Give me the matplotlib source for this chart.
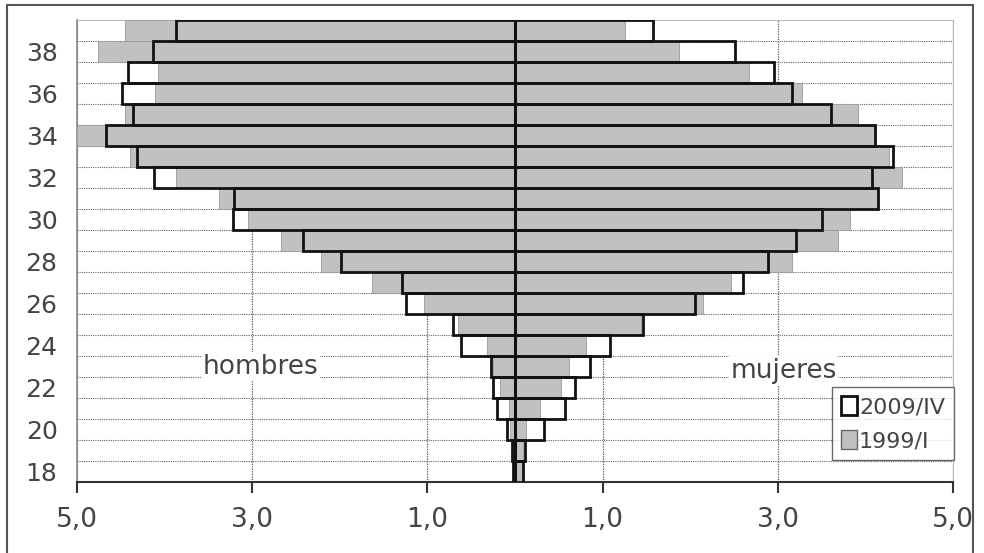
import matplotlib
matplotlib.use("Agg")
import matplotlib.pyplot as plt
from matplotlib.patches import Patch, Rectangle

plt.rcParams['font.family'] = ['DejaVu Sans']

ages = list(range(18, 40))
ytick_ages = list(range(18, 40, 2))
hombres_2009 = [0.02, 0.03, 0.09, 0.21, 0.25, 0.27, 0.62, 0.71, 1.24, 1.29, 1.99,
                2.42, 3.22, 3.21, 4.12, 4.31, 4.67, 4.36, 4.49, 4.42, 4.13, 3.87]
hombres_1999 = [0.01, 0.02, 0.06, 0.07, 0.17, 0.25, 0.32, 0.65, 1.04, 1.63, 2.22,
                2.67, 3.05, 3.38, 3.87, 4.40, 5.0, 4.45, 4.11, 4.08, 4.76, 4.45]
mujeres_2009 = [0.09, 0.11, 0.33, 0.57, 0.68, 0.86, 1.08, 1.46, 2.06, 2.60, 2.89,
                3.21, 3.51, 4.14, 4.08, 4.32, 4.11, 3.61, 3.16, 2.96, 2.51, 1.57]
mujeres_1999 = [0.09, 0.095, 0.13, 0.28, 0.52, 0.62, 0.81, 1.44, 2.15, 2.47, 3.16,
                3.69, 3.82, 4.13, 4.42, 4.27, 4.10, 3.92, 3.28, 2.67, 1.87, 1.26]
xticks = [-5, -3, -1, 1, 3, 5]
xticklabels = ["5,0", "3,0", "1,0", "1,0", "3,0", "5,0"]
series_labels = ["2009/IV", "1999/I"]

gray = "#c0c1c3"
txt = "#444444"

fig = plt.figure(figsize=(9.84, 5.53), dpi=100)
ax = fig.add_axes([0.0783, 0.1284, 0.8902, 0.8354])

neg_h09 = [-v for v in hombres_2009]
neg_h99 = [-v for v in hombres_1999]

# white fill of 2009, gray 1999 on top, then 2009 outline above
for vals in (neg_h09, mujeres_2009):
    ax.barh(ages, vals, height=1.0, color="white", edgecolor="none", zorder=2)
for vals in (neg_h99, mujeres_1999):
    ax.barh(ages, vals, height=1.0, color=gray, edgecolor="#9a9a9a", linewidth=0.6, zorder=3)
for vals in (neg_h09, mujeres_2009):
    ax.barh(ages, vals, height=1.0, fill=False, edgecolor="#111111", linewidth=2.0, zorder=4)
ax.axvline(0, color="#111111", linewidth=2.2, zorder=5)

ax.set_xlim(-5, 5)
ax.set_ylim(17.5, 39.5)
ax.set_xticks(xticks)
ax.set_xticklabels(xticklabels)
ax.set_yticks(ytick_ages)
ax.set_yticks([a + 0.5 for a in ages[:-1]], minor=True)

ax.grid(True, which="minor", axis="y", linestyle=(0, (1, 1)), color="#666666", linewidth=0.8, zorder=0)
ax.grid(True, which="major", axis="x", linestyle=(0, (1, 1)), color="#555555", linewidth=0.9, zorder=0)
ax.set_axisbelow(True)

ax.tick_params(axis="x", direction="out", length=8, width=1.5, color="#333333",
               labelsize=19, labelcolor=txt, pad=10)
ax.tick_params(axis="y", which="both", length=0, labelsize=18, labelcolor=txt, pad=14)

for s in ("top", "right"):
    ax.spines[s].set_color("#bbbbbb")
ax.spines["left"].set_color("#888888")
ax.spines["left"].set_linewidth(1.2)
ax.spines["bottom"].set_color("#333333")
ax.spines["bottom"].set_linewidth(1.5)

ax.text(-2.9, 23.0, "hombres", ha="center", va="center", fontsize=19, color=txt,
        bbox=dict(facecolor="white", edgecolor="none", pad=1), zorder=6)
ax.text(3.07, 22.8, "mujeres", ha="center", va="center", fontsize=19, color=txt,
        bbox=dict(facecolor="white", edgecolor="none", pad=1), zorder=6)

handles = [Patch(facecolor="white", edgecolor="#111111", linewidth=2),
           Patch(facecolor=gray, edgecolor="#666666", linewidth=1)]
leg = ax.legend(handles, series_labels, loc="upper right", bbox_to_anchor=(1.001, 0.205),
                fontsize=16, frameon=True, fancybox=False, handlelength=0.7, handleheight=0.9,
                handletextpad=0.1, borderpad=0.4, labelspacing=0.6, borderaxespad=0)
leg.get_frame().set_edgecolor("#444444")
leg.get_frame().set_linewidth(1.0)
for t in leg.get_texts():
    t.set_color(txt)
leg.set_zorder(7)

fig.patches.append(Rectangle((0.0071, -0.05), 0.982, 1.041, transform=fig.transFigure,
                             fill=False, edgecolor="#555555", linewidth=1.5))

fig.savefig("out.png", dpi=100)
